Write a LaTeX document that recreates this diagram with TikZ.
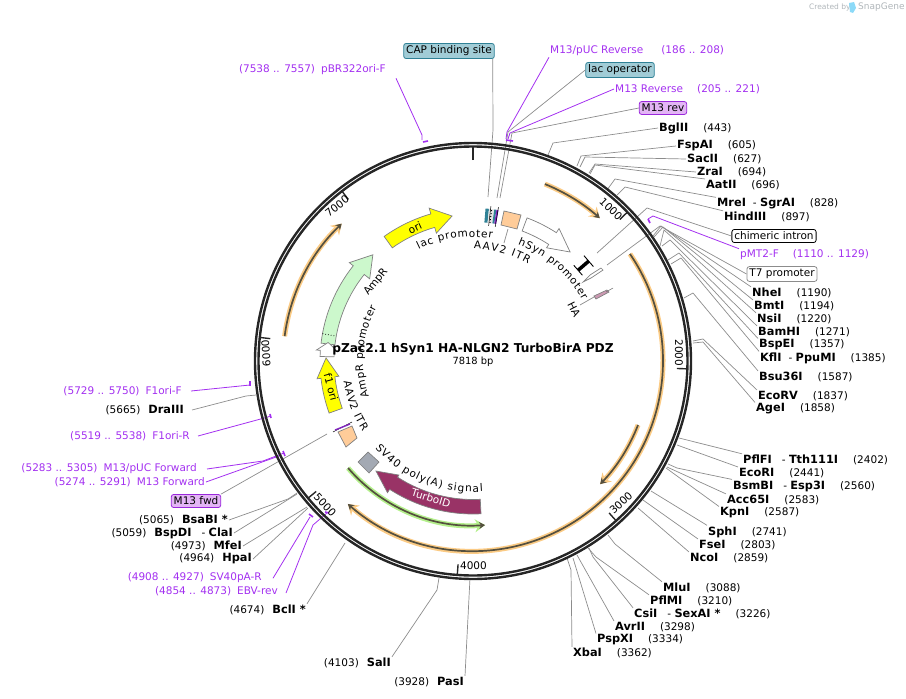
\documentclass[tikz,border=0pt]{standalone}
\usepackage{fontspec}
\setmainfont[BoldFeatures={Scale=1.08}]{DejaVu Sans}
\usepackage{xcolor}
\usepackage{tikz}
\usetikzlibrary{arrows.meta, decorations.text}

\definecolor{ringblack}{HTML}{262626}
\definecolor{leadgray}{HTML}{8C8C8C}
\definecolor{primerpurple}{HTML}{A330F0}
\definecolor{orfcore}{HTML}{55503F}
\definecolor{orfhalo}{HTML}{FBCB85}
\definecolor{greenhalo}{HTML}{B4F08C}
\definecolor{oriyellow}{HTML}{FFFF00}
\definecolor{amprgreen}{HTML}{CCF8CC}
\definecolor{itrorange}{HTML}{FFCC99}
\definecolor{polygray}{HTML}{A3A9B3}
\definecolor{turbored}{HTML}{993366}
\definecolor{capteal}{HTML}{A1CCD6}
\definecolor{capedge}{HTML}{2F8196}
\definecolor{revfill}{HTML}{E3B5F5}
\definecolor{revedge}{HTML}{9A28DC}
\definecolor{creditgray}{HTML}{B0B6BA}
\newcommand{\maplab}{\fontsize{10.5}{12}\selectfont}

\begin{document}
\begin{tikzpicture}[
    x=1pt, y=1pt,
    every node/.style={font=\maplab, inner sep=1pt},
    enzyme/.style={text=black},
    primer/.style={text=primerpurple},
    lead/.style={draw=leadgray, line width=0.7pt},
    primerlead/.style={draw=primerpurple, line width=0.8pt},
    primertick/.style={draw=primerpurple, line width=1.6pt},
    bluebox/.style={rectangle, rounded corners=2.5pt, draw=capedge, fill=capteal, inner sep=2.5pt, line width=0.8pt},
    purplebox/.style={rectangle, rounded corners=2.5pt, draw=revedge, fill=revfill, inner sep=2.5pt, line width=0.8pt},
    plainbox/.style={rectangle, rounded corners=2.5pt, draw=black, fill=white, inner sep=2.5pt, line width=0.8pt},
    grayoutbox/.style={rectangle, rounded corners=2.5pt, draw=leadgray, fill=white, inner sep=2.5pt, line width=0.8pt},
    ticklab/.style={text=black},
    maptick/.style={draw=ringblack, line width=1.4pt},
    feature/.style={draw=gray, line width=0.7pt},
    orfarc/.style={
        preaction={draw=#1, line width=5pt, -{Stealth[length=10pt, width=13pt]}},
        draw=orfcore,
        line width=1.7pt,
        -{Stealth[length=6pt, width=7pt]}
    },
    arctext/.style={decorate, decoration={text along path, text align={fit to path}, text={|\maplab|#1}}}
]
\useasboundingbox (0,0) rectangle (906,-699);

% Credit
\node[anchor=west, text=creditgray, font=\fontsize{7.5}{9}\selectfont] (created) at (808,-7) {Created by};
\node[anchor=west, text=creditgray, font=\fontsize{9}{10}\selectfont] (snapgene) at (857,-7) {SnapGene};
\fill[cyan!45] (849,-3) -- (854,-2) -- (856,-8) -- (853,-13) -- (850,-12) -- cycle;

% Top labels
\node[bluebox] (cap) at (449,-51) {CAP binding site};
\coordinate (capend) at (488,-197);
\draw[lead] ([xshift=-2pt]cap.south east) -- (493,-130) -- (capend);

\node[primer, anchor=west] (pucrev) at (549,-51) {M13/pUC Reverse\hspace{18pt}(186 .. 208)};
\coordinate (pucrevend) at (506,-139);
\draw[primerlead] (pucrev.south west) -- (507,-132) -- (pucrevend);

\node[bluebox] (lacop) at (620,-70) {lac operator};
\coordinate (lacopend) at (497,-198);
\draw[lead] (lacop.west) -- (508,-132) -- (lacopend);

\node[primer, anchor=west] (m13rev) at (614,-89) {M13 Reverse\hspace{14pt}(205 .. 221)};
\coordinate (m13revend) at (508,-139);
\draw[primerlead] (m13rev.west) -- (510,-133) -- (m13revend);

\node[purplebox] (revbox) at (663,-108) {M13 rev};
\coordinate (revboxend) at (500,-198);
\draw[lead] (revbox.west) -- (512,-133) -- (revboxend);

\node[primer, anchor=east] (pbr) at (387,-70) {(7538 .. 7557)\hspace{6pt}pBR322ori-F};
\coordinate (pbrend) at (422,-140);
\draw[primerlead] ([xshift=9pt,yshift=-2pt]pbr.south east) -- (422,-135) -- (pbrend);

% Enzymes, upper right
\node[enzyme, anchor=west] (bglii) at (658,-128) {\textbf{BglII}\hspace{15pt}(443)};
\coordinate (bgliiend) at (548,-155);
\draw[lead] (bglii.west) -- (553,-143) -- (bgliiend);

\node[enzyme, anchor=west] (fspai) at (676,-146) {\textbf{FspAI}\hspace{15pt}(605)};
\coordinate (fspaiend) at (577,-166);
\draw[lead] (fspai.west) -- (581,-156) -- (fspaiend);

\node[enzyme, anchor=west] (sacii) at (686,-159) {\textbf{SacII}\hspace{15pt}(627)};
\coordinate (saciiend) at (580,-167);
\draw[lead] (sacii.west) -- (585,-157) -- (saciiend);

\node[enzyme, anchor=west] (zrai) at (696,-172) {\textbf{ZraI}\hspace{15pt}(694)};
\coordinate (zraiend) at (589,-173);
\draw[lead] (zrai.west) -- (595,-164) -- (zraiend);

\node[enzyme, anchor=west] (aatii) at (705,-185) {\textbf{AatII}\hspace{15pt}(696)};
\coordinate (aatiiend) at (590,-174);
\draw[lead] (aatii.north west) -- (595,-165) -- (aatiiend);

\node[enzyme, anchor=west] (mrei) at (716,-204) {\textbf{MreI}\hspace{7pt}-\ \textbf{SgrAI}\hspace{15pt}(828)};
\coordinate (mreiend) at (607,-190);
\draw[lead] (mrei.north west) -- (615,-179) -- (mreiend);

\node[enzyme, anchor=west] (hindiii) at (723,-217) {\textbf{HindIII}\hspace{15pt}(897)};
\coordinate (hindiiiend) at (617,-195);
\draw[lead] (hindiii.north west) -- (625,-187) -- (hindiiiend);

\node[plainbox] (intron) at (774,-236) {chimeric intron};
\coordinate (intronend) at (597,-253);
\draw[lead] (intron.west) -- (647,-208) -- (intronend);

\node[primer, anchor=west] (pmt) at (739,-255) {pMT2-F\hspace{14pt}(1110 .. 1129)};
\coordinate (pmtend) at (648,-219);
\draw[primerlead] (pmt.north west) -- (653,-216) -- (pmtend);

\node[grayoutbox] (tseven) at (782,-274) {T7 promoter};
\coordinate (tsevenend) at (607,-265);
\draw[lead] (tseven.west) -- (660,-226) -- (tsevenend);

\node[enzyme, anchor=west] (nhei) at (751,-293) {\textbf{NheI}\hspace{15pt}(1190)};
\coordinate (nheiend) at (653,-236);
\draw[lead] (nhei.north west) -- (661,-226) -- (nheiend);

\node[enzyme, anchor=west] (bmti) at (753,-306) {\textbf{BmtI}\hspace{15pt}(1194)};
\coordinate (bmtiend) at (654,-237);
\draw[lead] (bmti.north west) -- (663,-227) -- (bmtiend);

\node[enzyme, anchor=west] (nsii) at (756,-319) {\textbf{NsiI}\hspace{15pt}(1220)};
\coordinate (nsiiend) at (660,-246);
\draw[lead] (nsii.north west) -- (664,-230) -- (nsiiend);

\node[enzyme, anchor=west] (bamhi) at (757,-332) {\textbf{BamHI}\hspace{15pt}(1271)};
\coordinate (bamhiend) at (662,-246);
\draw[lead] (bamhi.north west) -- (670,-240) -- (bamhiend);

\node[enzyme, anchor=west] (bspei) at (758,-345) {\textbf{BspEI}\hspace{15pt}(1357)};
\coordinate (bspeiend) at (668,-260);
\draw[lead] (bspei.north west) -- (679,-253) -- (bspeiend);

\node[enzyme, anchor=west] (kfli) at (759,-358) {\textbf{KflI}\hspace{7pt}-\ \textbf{PpuMI}\hspace{15pt}(1385)};
\coordinate (kfliend) at (671,-264);
\draw[lead] (kfli.north west) -- (681,-258) -- (kfliend);

\node[enzyme, anchor=west] (bsu) at (758,-377) {\textbf{Bsu36I}\hspace{15pt}(1587)};
\coordinate (bsuend) at (684,-298);
\draw[lead] (bsu.north west) -- (693,-293) -- (bsuend);

\node[enzyme, anchor=west] (ecorv) at (757,-396) {\textbf{EcoRV}\hspace{15pt}(1837)};
\coordinate (ecorvend) at (693,-341);
\draw[lead] (ecorv.north west) -- (703,-339) -- (ecorvend);

\node[enzyme, anchor=west] (agei) at (755,-409) {\textbf{AgeI}\hspace{15pt}(1858)};
\coordinate (ageiend) at (693,-343);
\draw[lead] (agei.north west) -- (703,-342) -- (ageiend);

% Enzymes, lower right
\node[enzyme, anchor=west] (pflfi) at (742,-460) {\textbf{PflFI}\hspace{10pt}-\ \textbf{Tth111I}\hspace{15pt}(2402)};
\coordinate (pflfiend) at (679,-438);
\draw[lead] (pflfi.north west) -- (pflfiend);

\node[enzyme, anchor=west] (ecori) at (738,-473) {\textbf{EcoRI}\hspace{15pt}(2441)};
\coordinate (ecoriend) at (677,-445);
\draw[lead] (ecori.north west) -- (ecoriend);

\node[enzyme, anchor=west] (bsmbi) at (732,-486) {\textbf{BsmBI}\hspace{10pt}-\ \textbf{Esp3I}\hspace{15pt}(2560)};
\coordinate (bsmbiend) at (668,-464);
\draw[lead] (bsmbi.north west) -- (677,-468) -- (bsmbiend);

\node[enzyme, anchor=west] (acc) at (726,-500) {\textbf{Acc65I}\hspace{15pt}(2583)};
\coordinate (accend) at (667,-467);
\draw[lead] (acc.north west) -- (accend);

\node[enzyme, anchor=west] (kpni) at (719,-513) {\textbf{KpnI}\hspace{15pt}(2587)};
\coordinate (kpniend) at (666,-468);
\draw[lead] (kpni.north west) -- (kpniend);

\node[enzyme, anchor=west] (sphi) at (707,-532) {\textbf{SphI}\hspace{15pt}(2741)};
\coordinate (sphiend) at (651,-491);
\draw[lead] (sphi.north west) -- (sphiend);

\node[enzyme, anchor=west] (fsei) at (698,-545) {\textbf{FseI}\hspace{15pt}(2803)};
\coordinate (fseiend) at (643,-500);
\draw[lead] (fsei.north west) -- (fseiend);

\node[enzyme, anchor=west] (ncoi) at (689,-558) {\textbf{NcoI}\hspace{15pt}(2859)};
\coordinate (ncoiend) at (638,-508);
\draw[lead] (ncoi.north west) -- (ncoiend);

\node[enzyme, anchor=west] (mlui) at (662,-588) {\textbf{MluI}\hspace{15pt}(3088)};
\coordinate (mluiend) at (608,-535);
\draw[lead] (mlui.north west) -- (615,-544) -- (mluiend);

\node[enzyme, anchor=west] (pflmi) at (649,-601) {\textbf{PflMI}\hspace{15pt}(3210)};
\coordinate (pflmiend) at (588,-548);
\draw[lead] (pflmi.north west) -- (596,-557) -- (pflmiend);

\node[enzyme, anchor=west] (csii) at (633,-614) {\textbf{CsiI}\hspace{10pt}-\ \textbf{SexAI *}\hspace{15pt}(3226)};
\coordinate (csiiend) at (589,-548);
\draw[lead] (csii.north west) -- (593,-557) -- (csiiend);

\node[enzyme, anchor=west] (avrii) at (614,-627) {\textbf{AvrII}\hspace{15pt}(3298)};
\coordinate (avriiend) at (577,-555);
\draw[lead] (avrii.north west) -- (avriiend);

\node[enzyme, anchor=west] (pspxi) at (596,-640) {\textbf{PspXI}\hspace{15pt}(3334)};
\coordinate (pspxiend) at (573,-558);
\draw[lead] (pspxi.north west) -- (pspxiend);

\node[enzyme, anchor=west] (xbai) at (572,-653) {\textbf{XbaI}\hspace{15pt}(3362)};
\coordinate (xbaiend) at (567,-558);
\draw[lead] (xbai.north west) -- (571,-570) -- (xbaiend);

% Enzymes, bottom and left
\node[enzyme, anchor=east] (pasi) at (465,-682) {(3928)\hspace{8pt}\textbf{PasI}};
\coordinate (pasiend) at (470,-578);
\draw[lead] (pasi.north east) -- (pasiend);

\node[enzyme, anchor=east] (sali) at (392,-663) {(4103)\hspace{8pt}\textbf{SalI}};
\coordinate (saliend) at (439,-578);
\draw[lead] (sali.north east) -- (437,-590) -- (saliend);

\node[enzyme, anchor=east] (bcli) at (307,-610) {(4674)\hspace{8pt}\textbf{BclI *}};
\coordinate (bcliend) at (345,-543);
\draw[lead] (bcli.north east) -- (bcliend);

\node[primer, anchor=east] (ebv) at (279,-591) {(4854 .. 4873)\hspace{6pt}EBV-rev};
\coordinate (ebvend) at (327,-513);
\draw[primerlead] ([xshift=7pt,yshift=-2pt]ebv.east) -- (313,-525) -- (ebvend);

\node[primer, anchor=east] (svpa) at (263,-578) {(4908 .. 4927)\hspace{6pt}SV40pA-R};
\coordinate (svpaend) at (310,-517);
\draw[primerlead] ([xshift=10pt,yshift=6pt]svpa.south east) -- (svpaend);

\node[enzyme, anchor=east] (hpai) at (253,-559) {(4964)\hspace{8pt}\textbf{HpaI}};
\coordinate (hpaiend) at (308,-508);
\draw[lead] (hpai.east) -- (hpaiend);

\node[enzyme, anchor=east] (mfei) at (243,-546) {(4973)\hspace{8pt}\textbf{MfeI}};
\coordinate (mfeiend) at (307,-507);
\draw[lead] (mfei.east) -- (mfeiend);

\node[enzyme, anchor=east] (bspdi) at (234,-533) {(5059)\hspace{8pt}\textbf{BspDI}\hspace{10pt}-\ \textbf{ClaI}};
\coordinate (bspdiend) at (297,-494);
\draw[lead] (bspdi.east) -- (289,-499) -- (bspdiend);

\node[enzyme, anchor=east] (bsabi) at (229,-520) {(5065)\hspace{8pt}\textbf{BsaBI *}};
\coordinate (bsabiend) at (297,-493);
\draw[lead] (bsabi.east) -- (288,-499) -- (bsabiend);

\node[purplebox] (fwdbox) at (196,-501) {M13 fwd};
\coordinate (fwdboxend) at (327,-434);
\draw[lead] (fwdbox.north east) -- (fwdboxend);

\node[primer, anchor=east] (m13fwd) at (206,-482) {(5274 .. 5291)\hspace{6pt}M13 Forward};
\coordinate (m13fwdend) at (279,-456);
\draw[primerlead] (m13fwd.east) -- (m13fwdend);

\node[primer, anchor=east] (pucfwd) at (198,-469) {(5283 .. 5305)\hspace{6pt}M13/pUC Forward};
\coordinate (pucfwdend) at (284,-453);
\draw[primerlead] ([xshift=9pt]pucfwd.east) -- (263,-461) -- (pucfwdend);

\node[primer, anchor=east] (fori) at (191,-436) {(5519 .. 5538)\hspace{6pt}F1ori-R};
\coordinate (foriend) at (270,-416);
\draw[primerlead] ([xshift=7pt]fori.east) -- (268,-417) -- (foriend);

\node[enzyme, anchor=east] (draiii) at (185,-410) {(5665)\hspace{8pt}\textbf{DraIII}};
\coordinate (draiiiend) at (256,-395);
\draw[lead] ([xshift=7pt]draiii.east) -- (246,-396) -- (draiiiend);

\node[primer, anchor=east] (forf) at (183,-391) {(5729 .. 5750)\hspace{6pt}F1ori-F};
\coordinate (forfend) at (250,-385);
\draw[primerlead] ([xshift=8pt]forf.east) -- (forfend);

% Primer marks on the ring
\draw[primertick] (423,-142) -- (428,-141);
\draw[primertick] (506,-140) -- (513,-141);
\draw[primertick] (648,-219) -- (650,-223);
\draw[primertick] (250,-381) -- (250,-386);
\draw[primertick] (270,-414) -- (271,-418);
\draw[primertick] (283,-451) -- (285,-456);
\draw[primertick] (277,-457) -- (279,-460);
\draw[primertick] (309,-514) -- (313,-517);
\draw[primertick] (325,-512) -- (329,-513);

% Ring and features
\begin{scope}[shift={(473,-361)}]
\draw[ringblack, line width=2.4pt] (0,0) circle[radius=218];
\draw[ringblack, line width=2.4pt] (0,0) circle[radius=214.5];

% Ticks
\draw[ringblack, line width=2.6pt] (90:201) -- (90:214);
\draw[maptick] (43.95:204) -- (43.95:214);
\draw[maptick] (-2.1:204) -- (-2.1:214);
\draw[maptick] (-48.15:204) -- (-48.15:214);
\draw[maptick] (-94.2:204) -- (-94.2:214);
\draw[maptick] (-140.25:204) -- (-140.25:214);
\draw[maptick] (173.7:204) -- (173.7:214);
\draw[maptick] (127.65:204) -- (127.65:214);

% Long arcs
\draw[orfarc=orfhalo] (67.9:191) arc[start angle=67.9, end angle=48.4, radius=191];
\draw[orfarc=orfhalo] (34.3:190) arc[start angle=34.3, end angle=-131.2, radius=190];
\draw[orfarc=orfhalo] (-21.2:177) arc[start angle=-21.2, end angle=-44.1, radius=177];
\draw[orfarc=orfhalo] (172.5:190) arc[start angle=172.5, end angle=133.7, radius=190];
\draw[orfarc=greenhalo] (-139.4:164.5) arc[start angle=-139.4, end angle=-85.8, radius=164.5];

% Arrows
\draw[feature, fill=oriyellow] (125.5:153) arc[start angle=125.5, end angle=106, radius=153] -- (106:159) -- (98.2:146.5) -- (106:133) -- (106:139) arc[start angle=106, end angle=125.5, radius=139] -- cycle;
\draw[feature, fill=amprgreen] (173.3:153) arc[start angle=173.3, end angle=141.5, radius=153] -- (141.5:158) -- (133.3:146) -- (141.5:132) -- (141.5:139) arc[start angle=141.5, end angle=173.3, radius=139] -- cycle;
\draw[black, dotted, line width=0.8pt] (169.7:153) -- (169.7:139);
\draw[feature, fill=white] (177.7:153) -- (176:153) -- (176:157) -- (172.7:146) -- (176:136) -- (176:139) -- (177.7:139) -- (178.3:139) -- (178.3:153) -- cycle;
\draw[feature, fill=oriyellow] (199.9:153) arc[start angle=199.9, end angle=186.5, radius=153] -- (186.5:157) -- (178.8:147) -- (186.5:135) -- (186.5:139) arc[start angle=186.5, end angle=199.9, radius=139] -- cycle;
\draw[feature, fill=white] (69.3:153) arc[start angle=69.3, end angle=57, radius=153] -- (57:158) -- (48.3:146) -- (57:135) -- (57:139) arc[start angle=57, end angle=69.3, radius=139] -- cycle;
\draw[feature, fill=turbored] (-87:153) arc[start angle=-87, end angle=-123, radius=153] -- (-123:157) -- (-131.4:146.7) -- (-123:136) -- (-123:138.5) arc[start angle=-123, end angle=-87, radius=138.5] -- cycle;

% Small boxes
\fill[capedge] (85.3:139) -- (85.3:153) -- (84:153) -- (84:139) -- cycle;
\fill[white!80!gray] (84:139) -- (84:153) -- (82:153) -- (82:139) -- cycle;
\draw[black, dotted, line width=1pt] (83:139) -- (83:153);
\fill[capedge] (82:139) -- (82:153) -- (81.2:153) -- (81.2:139) -- cycle;
\fill[primerpurple!80!black] (81.2:139) -- (81.2:153) -- (80.4:153) -- (80.4:139) -- cycle;
\draw[black, line width=0.5pt] (83.4:136) -- (83.4:156);
\draw[black, line width=0.5pt] (80.6:136) -- (80.6:156);
\draw[black, line width=3.5pt] (40.8:139) -- (40.8:153);
\draw[black, line width=0.9pt] (43.5:139) -- (38.1:139);
\draw[black, line width=0.9pt] (43.5:153) -- (38.1:153);
\end{scope}

\draw[feature, fill=itrorange] (504,-211) -- (521,-215) -- (517,-229) -- (501,-225) -- cycle;
\draw[feature, fill=itrorange] (338,-432) -- (352,-426) -- (357,-438) -- (346,-447) -- cycle;
\draw[black, line width=0.5pt] (333,-432) -- (352,-422);
\draw[primerpurple!80!black, line width=1.4pt] (335,-430) -- (350,-424);
\draw[feature, fill=polygray] (368,-452) -- (379,-462) -- (369,-473) -- (358,-462) -- cycle;
\draw[feature, fill=white] (583,-282) -- (590,-275) -- (601,-268) -- (603,-270) -- (591,-278) -- cycle;
\draw[feature, fill=turbored!50] (594,-296) -- (607,-290) -- (609,-292) -- (596,-299) -- cycle;
\draw[lead] (580,-305) -- (594,-297);
\draw[black!60, line width=0.5pt] (606,-292) -- (613,-288);
\draw[lead] (508,-229) -- (504,-243);

% Feature labels
\node[rotate=25] (orilab) at (415,-228) {ori};
\node[rotate=-75] (fonelab) at (331,-387) {f1 ori};
\node[rotate=-17, text=white] (turbolab) at (431,-498) {TurboID};
\node[rotate=51] (amprlab) at (376,-282) {AmpR};
\node[rotate=-63] (halab) at (574,-309) {HA};
\begin{scope}[shift={(473,-361)}]
\path[arctext={lac promoter}] (116:124) arc[start angle=116, end angle=81, radius=124];
\path[arctext={AAV2 ITR}] (89.5:112) arc[start angle=89.5, end angle=60.4, radius=112];
\path[arctext={hSyn promoter}] (69:125) arc[start angle=69, end angle=29, radius=125];
\path[arctext={AmpR promoter}] (199:110) arc[start angle=199, end angle=151, radius=110];
\path[arctext={AAV2 ITR}] (189:131) arc[start angle=189, end angle=212.6, radius=131];
\path[arctext={SV40 poly(A) signal}] (221.6:131) arc[start angle=221.6, end angle=274.4, radius=131];
\end{scope}

% Title
\node[font=\bfseries\fontsize{11.3}{14}\selectfont] (title) at (473,-349) {pZac2.1 hSyn1 HA-NLGN2 TurboBirA PDZ};
\node[font=\fontsize{9.9}{11}\selectfont] (length) at (473,-362) {7818 bp};

% Tick labels
\node[ticklab, rotate=-44] (onek) at (611,-209) {1000};
\node[ticklab, rotate=-90] (twok) at (679,-353) {2000};
\node[ticklab, rotate=43] (threek) at (621,-503) {3000};
\node[ticklab] (fourk) at (473.5,-566) {4000};
\node[ticklab, rotate=-47] (fivek) at (325,-505) {5000};
\node[ticklab, rotate=94] (sixk) at (266,-353) {6000};
\node[ticklab, rotate=38] (sevenk) at (337,-206) {7000};
\end{tikzpicture}
\end{document}
